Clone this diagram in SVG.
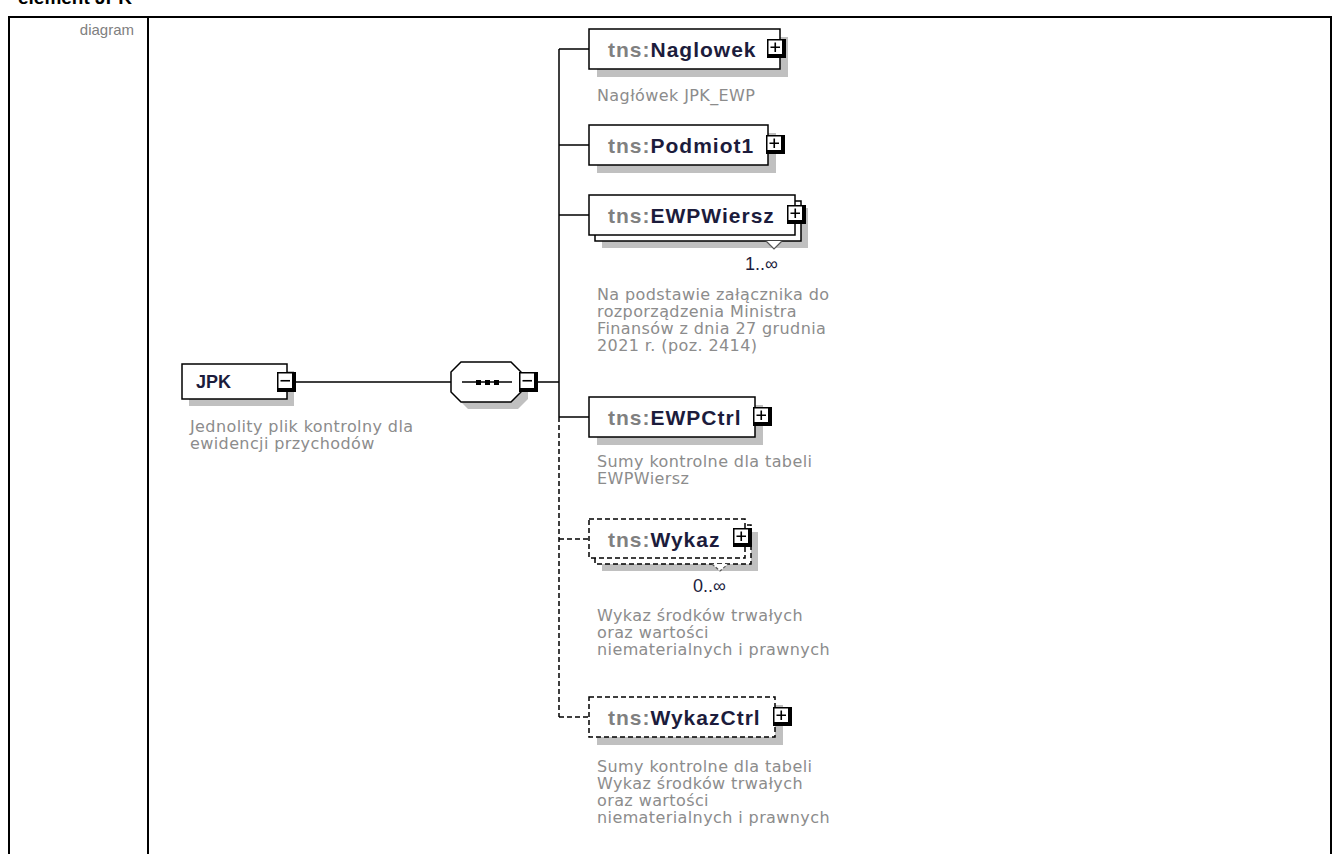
<svg xmlns="http://www.w3.org/2000/svg" width="1340" height="854" viewBox="0 0 1340 854">
<style>
.frame{fill:none;stroke:#000;stroke-width:2}
.box{fill:#fff;stroke:#000;stroke-width:1.5}
.dbox{fill:#fff;stroke:#000;stroke-width:1.5;stroke-dasharray:5 3}
.shadow{fill:#c0c0c0}
.ns{font-family:"Liberation Sans",Arial,sans-serif;font-size:21px;font-weight:bold;letter-spacing:1px;fill:#808080}
.nm{fill:#1c1c3c}
.desc{font-family:"DejaVu Sans",Tahoma,sans-serif;font-size:16px;letter-spacing:0.4px;fill:#8c8c8c}
.occ{font-family:"Liberation Sans",Arial,sans-serif;font-size:18px;fill:#1c1c3c}
.conn{fill:none;stroke:#000;stroke-width:1.5}
.dconn{fill:none;stroke:#000;stroke-width:1.5;stroke-dasharray:5 3}
.lbl{font-family:"Liberation Sans",Arial,sans-serif;font-size:15px;fill:#808080}
</style>
<defs>
<g id="plus">
<rect x="0" y="0" width="19" height="19" fill="#000"/>
<rect x="0.75" y="0.75" width="15" height="15" fill="#fff" stroke="#000" stroke-width="1.5"/>
<path d="M3.5 8.25H13M8.25 3.5V13" stroke="#000" stroke-width="1.6"/>
</g>
<g id="minus">
<rect x="0" y="0" width="19" height="20" fill="#000"/>
<rect x="0.75" y="0.75" width="15" height="16" fill="#fff" stroke="#000" stroke-width="1.5"/>
<path d="M3.5 8.75H13" stroke="#000" stroke-width="1.6"/>
</g>
</defs>
<rect width="1340" height="854" fill="#fff"/>

<g id="title">
<text x="18" y="4" font-family="Liberation Sans,Arial,sans-serif" font-size="19px" font-weight="bold" fill="#000">element JPK</text>
</g>
<g id="table">
<path class="frame" d="M9 860V17H1331V860M148 17V860"/>
<text class="lbl" x="134" y="35" text-anchor="end">diagram</text>
</g>

<g id="connectors">
<path class="conn" d="M296 382H451M538 382H559M559 49V417M559 49H589M559 145H589M559 215H589M559 417H589"/>
<path class="dconn" d="M559 417V717M559 539H589M559 717H589"/>
</g>

<g id="JPK">
<rect class="shadow" x="189" y="371" width="105" height="35"/>
<rect class="box" x="182" y="364" width="105" height="35"/>
<text x="196" y="388" font-family="Liberation Sans,Arial,sans-serif" font-size="18px" font-weight="bold" fill="#1c1c3c">JPK</text>
<use href="#minus" x="277" y="372"/>
<text class="desc" x="190" y="432">Jednolity plik kontrolny dla</text>
<text class="desc" x="190" y="449">ewidencji przychodów</text>
</g>

<g id="sequence">
<polygon class="shadow" points="468,369 518,369 528,379 528,399 518,409 468,409 458,399 458,379"/>
<polygon fill="#fff" stroke="#000" stroke-width="1.5" points="461,362 511,362 521,372 521,392 511,402 461,402 451,392 451,372"/>
<path d="M462 382H512" stroke="#000" stroke-width="1.5"/>
<rect x="476" y="380" width="5" height="5" fill="#000"/>
<rect x="485" y="380" width="5" height="5" fill="#000"/>
<rect x="494" y="380" width="5" height="5" fill="#000"/>
<use href="#minus" x="519" y="372"/>
</g>

<g id="Naglowek">
<rect class="shadow" x="597" y="37" width="191" height="40"/>
<rect class="box" x="589" y="29" width="191" height="40"/>
<text class="ns" x="608" y="57">tns:<tspan class="nm">Naglowek</tspan></text>
<use href="#plus" x="767" y="39"/>
<text class="desc" x="597" y="101">Nagłówek JPK_EWP</text>
</g>

<g id="Podmiot1">
<rect class="shadow" x="597" y="133" width="179" height="40"/>
<rect class="box" x="589" y="125" width="179" height="40"/>
<text class="ns" x="608" y="153">tns:<tspan class="nm">Podmiot1</tspan></text>
<use href="#plus" x="766" y="135"/>
</g>

<g id="EWPWiersz">
<rect class="shadow" x="602" y="208" width="206" height="40"/>
<rect class="box" x="595" y="201" width="206" height="40"/>
<rect class="box" x="589" y="195" width="206" height="40"/>
<text class="ns" x="608" y="223">tns:<tspan class="nm">EWPWiersz</tspan></text>
<use href="#plus" x="787" y="205"/>
<polyline points="766,241 774,249 782,241" fill="#fff" stroke="#555" stroke-width="1.2"/>
<text class="occ" x="745" y="270">1..∞</text>
<text class="desc" x="597" y="300">Na podstawie załącznika do</text>
<text class="desc" x="597" y="317">rozporządzenia Ministra</text>
<text class="desc" x="597" y="334">Finansów z dnia 27 grudnia</text>
<text class="desc" x="597" y="351">2021 r. (poz. 2414)</text>
</g>

<g id="EWPCtrl">
<rect class="shadow" x="597" y="405" width="166" height="40"/>
<rect class="box" x="589" y="397" width="166" height="40"/>
<text class="ns" x="608" y="425">tns:<tspan class="nm">EWPCtrl</tspan></text>
<use href="#plus" x="753" y="407"/>
<text class="desc" x="597" y="467">Sumy kontrolne dla tabeli</text>
<text class="desc" x="597" y="484">EWPWiersz</text>
</g>

<g id="Wykaz">
<rect class="shadow" x="602" y="532" width="156" height="39"/>
<rect class="dbox" x="595" y="525" width="156" height="39"/>
<rect class="dbox" x="589" y="519" width="156" height="39"/>
<text class="ns" x="608" y="547">tns:<tspan class="nm">Wykaz</tspan></text>
<use href="#plus" x="733" y="528"/>
<polyline points="712,564 720,571 728,564" fill="#fff" stroke="#555" stroke-width="1.2" stroke-dasharray="3 2"/>
<text class="occ" x="693" y="592">0..∞</text>
<text class="desc" x="597" y="621">Wykaz środków trwałych</text>
<text class="desc" x="597" y="638">oraz wartości</text>
<text class="desc" x="597" y="655">niematerialnych i prawnych</text>
</g>

<g id="WykazCtrl">
<rect class="shadow" x="597" y="705" width="186" height="40"/>
<rect class="dbox" x="589" y="697" width="186" height="40"/>
<text class="ns" x="608" y="725">tns:<tspan class="nm">WykazCtrl</tspan></text>
<use href="#plus" x="773" y="707"/>
<text class="desc" x="597" y="772">Sumy kontrolne dla tabeli</text>
<text class="desc" x="597" y="789">Wykaz środków trwałych</text>
<text class="desc" x="597" y="806">oraz wartości</text>
<text class="desc" x="597" y="823">niematerialnych i prawnych</text>
</g>
</svg>
